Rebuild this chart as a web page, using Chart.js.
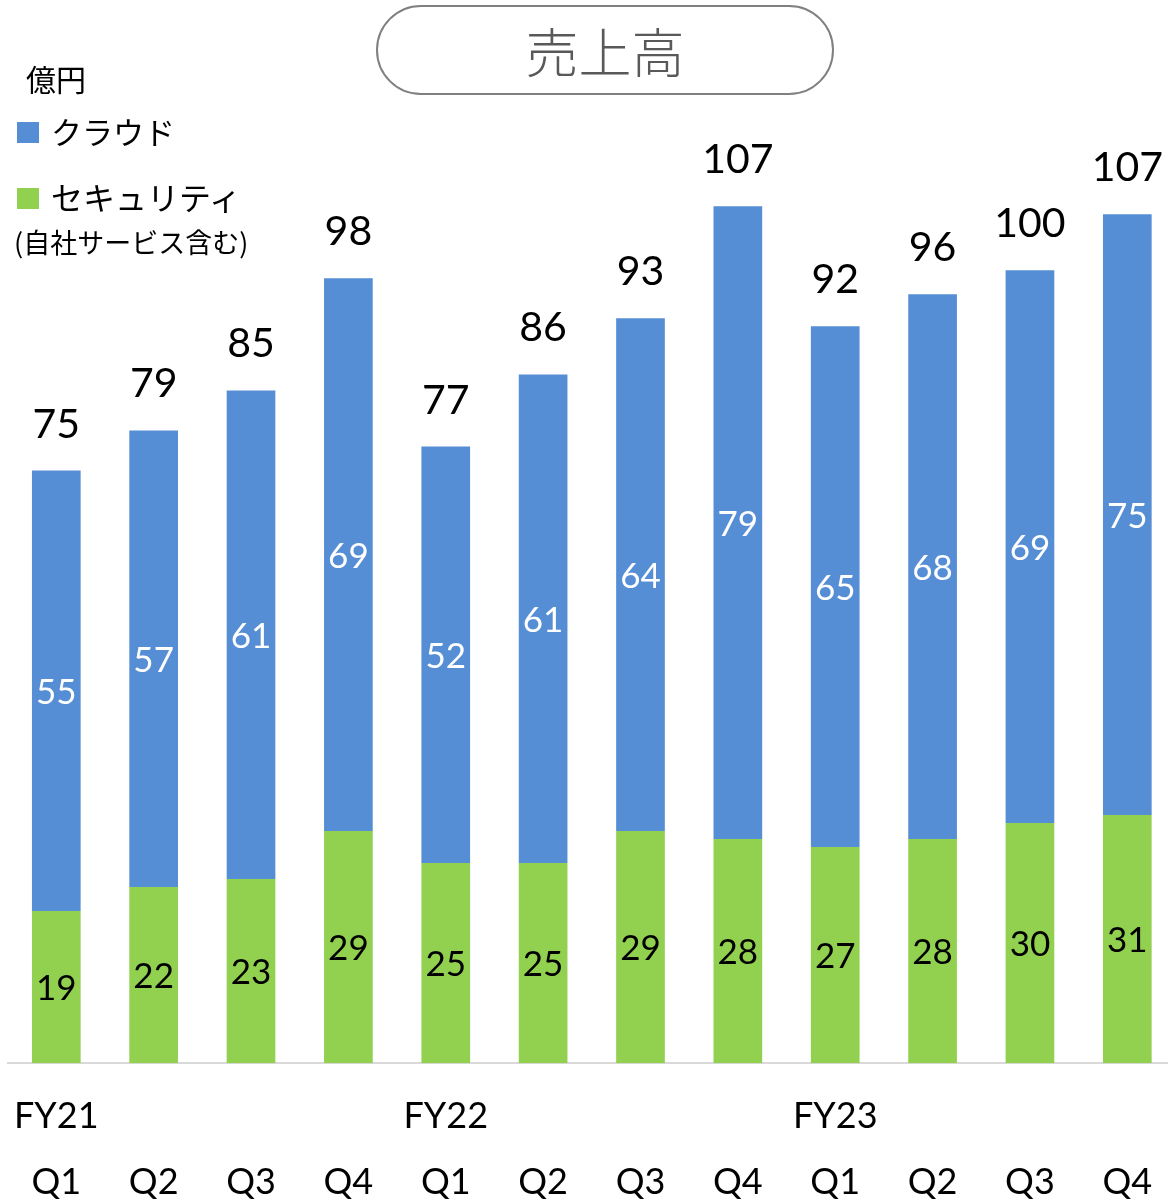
<!DOCTYPE html>
<html>
<head>
<meta charset="utf-8">
<script src="https://cdn.jsdelivr.net/npm/chart.js@4"></script>
<style>
  body { margin: 0; overflow: hidden; background: #fff; }
  #page { position: relative; width: 1168px; height: 1199px; overflow: hidden; }
  #wrap { position: absolute; left: -6px; top: 0; width: 1186px; height: 1235px; }
  .txt { position: absolute; font-family: "Noto Sans CJK JP", sans-serif; color: #000; white-space: nowrap; line-height: 1; }
  .sq { position: absolute; width: 22px; height: 21px; }
  #title {
    position: absolute; left: 376px; top: 5px; width: 454px; height: 86px;
    border: 2px solid #808080; border-radius: 45px;
    font-family: "Noto Sans CJK JP", sans-serif; font-weight: 300; font-size: 53px; color: #595959;
    display: flex; align-items: center; justify-content: center;
  }
</style>
</head>
<body>
<div id="page">
  <div id="wrap"><canvas id="myChart"></canvas></div>
  <div id="title">売上高</div>
  <div class="txt" style="left:26px; top:63px; font-size:30px;">億円</div>
  <div class="sq" style="left:17px; top:122px; background:#558ed5;"></div>
  <div class="txt" style="left:51px; top:115px; font-size:31px;">クラウド</div>
  <div class="sq" style="left:17px; top:188px; background:#92d050;"></div>
  <div class="txt" style="left:51px; top:180px; font-size:32px;">セキュリティ</div>
  <div class="txt" style="left:14px; top:228px; font-size:27px;">(自社サービス含む)</div>
</div>
<script>
const quarters = ["Q1", "Q2", "Q3", "Q4", "Q1", "Q2", "Q3", "Q4", "Q1", "Q2", "Q3", "Q4"];
const fiscalYears = ["FY21", "", "", "", "FY22", "", "", "", "FY23", "", "", ""];
const security = [19, 22, 23, 29, 25, 25, 29, 28, 27, 28, 30, 31];
const cloud = [55, 57, 61, 69, 52, 61, 64, 79, 65, 68, 69, 75];
const totals = [75, 79, 85, 98, 77, 86, 93, 107, 92, 96, 100, 107];

// two-line tick labels: fiscal year above, quarter below
const labels = quarters.map((q, i) => [fiscalYears[i], q]);

const barLabels = {
  id: "barLabels",
  afterDatasetsDraw(chart) {
    const ctx = chart.ctx;
    ctx.save();
    ctx.textAlign = "center";
    chart.data.datasets.forEach((ds, i) => {
      const meta = chart.getDatasetMeta(i);
      meta.data.forEach((bar, j) => {
        ctx.font = "35px Lato, 'Noto Sans CJK JP'";
        ctx.fillStyle = ds.labelColor;
        ctx.textBaseline = "middle";
        ctx.fillText(ds.data[j], bar.x, (bar.y + bar.base) / 2 + 2);
      });
    });
    // totals above the stack
    const topMeta = chart.getDatasetMeta(chart.data.datasets.length - 1);
    ctx.font = "41px Lato, 'Noto Sans CJK JP'";
    ctx.fillStyle = "#000";
    ctx.textBaseline = "alphabetic";
    topMeta.data.forEach((bar, j) => {
      ctx.fillText(totals[j], bar.x, bar.y - 33);
    });
    ctx.restore();
  },
};

const data = {
  labels: labels,
  datasets: [
    {
      label: "セキュリティ",
      data: security,
      backgroundColor: "#92d050",
      labelColor: "#000",
      barPercentage: 0.5,
      categoryPercentage: 1,
    },
    {
      label: "クラウド",
      data: cloud,
      backgroundColor: "#558ed5",
      labelColor: "#fff",
      barPercentage: 0.5,
      categoryPercentage: 1,
    },
  ],
};

const config = {
  type: "bar",
  data: data,
  options: {
    responsive: true,
    maintainAspectRatio: false,
    animation: false,
    layout: { padding: { left: 0, right: 4, top: 22, bottom: 0 } },
    plugins: {
      legend: { display: false },
      tooltip: { enabled: false },
    },
    scales: {
      x: {
        stacked: true,
        grid: { display: false, drawTicks: false },
        border: { color: "#d9d9d9", width: 2 },
        ticks: {
          autoSkip: false,
          maxRotation: 0,
          padding: 20,
          color: "#000",
          font: { family: "Lato, 'Noto Sans CJK JP'", size: 36, lineHeight: 1.83 },
        },
      },
      y: {
        stacked: true,
        display: false,
        min: 0,
        max: 130,
      },
    },
  },
  plugins: [barLabels],
};

const myChart = new Chart(document.getElementById("myChart"), config);
</script>
</body>
</html>
